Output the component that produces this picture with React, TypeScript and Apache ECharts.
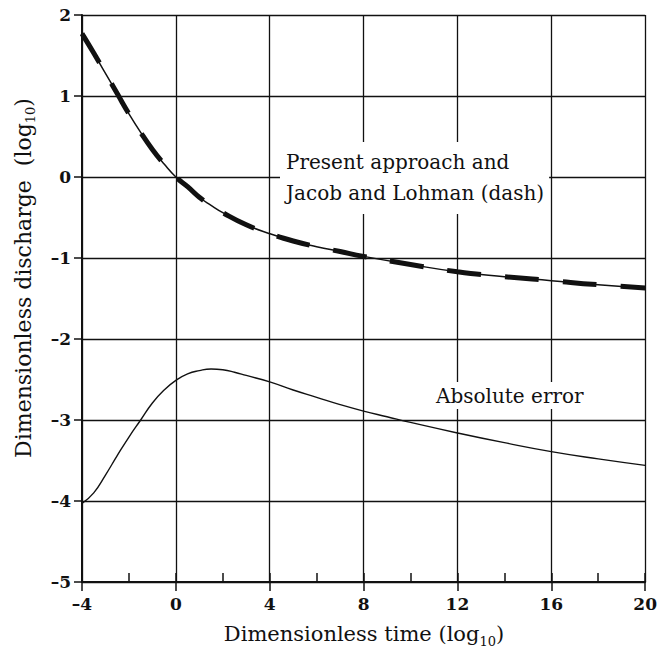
import React, { useEffect, useRef } from "react";
import * as echarts from "echarts";

const timeX: number[] = [-4, -3.5, -3, -2.5, -2, -1.5, -1, -0.5, 0, 0.5, 1, 1.5, 2, 3, 4, 5, 6, 7, 8, 10, 12, 14, 16, 18, 20];
const dischargeY: number[] = [1.77, 1.53, 1.28, 1.03, 0.78, 0.55, 0.34, 0.16, 0, -0.12, -0.25, -0.35, -0.44, -0.59, -0.7, -0.79, -0.86, -0.92, -0.98, -1.08, -1.17, -1.23, -1.28, -1.33, -1.37];

const errorX: number[] = [-4, -3.5, -3, -2.5, -2, -1.5, -1, -0.5, 0, 0.5, 1, 1.5, 2, 2.5, 3, 4, 5, 6, 7, 8, 9, 10, 12, 14, 16, 18, 20];
const errorY: number[] = [-4.03, -3.9, -3.68, -3.44, -3.21, -3.0, -2.79, -2.63, -2.51, -2.43, -2.39, -2.37, -2.38, -2.41, -2.45, -2.53, -2.63, -2.72, -2.81, -2.89, -2.96, -3.03, -3.16, -3.28, -3.39, -3.48, -3.56];

const xTicks = { min: -4, max: 20, interval: 4, minor: 2 };
const yTicks = { min: -5, max: 2, interval: 1 };

const xTitle = "Dimensionless time (log{sub|10})";
const yTitle = "Dimensionless discharge  (log{sub|10})";
const labelMain = "Present approach and\nJacob and Lohman (dash)";
const labelError = "Absolute error";

const FONT = "DejaVu Serif";
const INK = "#111";

const fmt = (v: number) => (v < 0 ? "\u2013" + Math.abs(v) : String(v));

export default function App() {
  const ref = useRef<HTMLDivElement>(null);
  useEffect(() => {
    if (!ref.current) return;
    const chart = echarts.init(ref.current, undefined, { renderer: "svg" });
    const mainData = timeX.map((x, i) => [x, dischargeY[i]]);
    const errData = errorX.map((x, i) => [x, errorY[i]]);
    const subRich = {
      sub: { fontSize: 13, fontFamily: FONT, color: INK, lineHeight: 13, verticalAlign: "bottom" },
    };
    chart.setOption({
      animation: false,
      backgroundColor: "#fff",
      grid: { left: 82, right: 10, top: 15, bottom: 72 },
      xAxis: [
        {
          type: "value",
          min: xTicks.min,
          max: xTicks.max,
          interval: xTicks.interval,
          position: "bottom",
          axisLine: { show: true, onZero: false, lineStyle: { color: INK, width: 2 } },
          axisTick: { show: true, inside: false, length: 9, lineStyle: { color: INK, width: 1.5 } },
          axisLabel: { formatter: fmt, fontFamily: FONT, fontWeight: "bold", fontSize: 17, color: INK, margin: 13 },
          splitLine: { show: true, lineStyle: { color: INK, width: 1.3 } },
        },
        {
          type: "value",
          min: xTicks.min,
          max: xTicks.max,
          interval: xTicks.minor,
          position: "bottom",
          offset: 0,
          axisLine: { show: false, onZero: false },
          axisTick: { show: true, inside: true, length: 9, lineStyle: { color: INK, width: 1.5 } },
          axisLabel: { show: false },
          splitLine: { show: false },
        },
      ],
      yAxis: {
        type: "value",
        min: yTicks.min,
        max: yTicks.max,
        interval: yTicks.interval,
        axisLine: { show: true, onZero: false, lineStyle: { color: INK, width: 2 } },
        axisTick: { show: true, inside: false, length: 8, lineStyle: { color: INK, width: 1.5 } },
        axisLabel: { formatter: fmt, fontFamily: FONT, fontWeight: "bold", fontSize: 17, color: INK, margin: 11 },
        splitLine: { show: true, lineStyle: { color: INK, width: 1.3 } },
      },
      series: [
        { type: "line", data: errData, smooth: 0.5, symbol: "none", lineStyle: { color: INK, width: 1.4 }, z: 3 },
        { type: "line", data: mainData, smooth: 0.5, symbol: "none", lineStyle: { color: INK, width: 1.5 }, z: 3 },
        {
          type: "line",
          data: mainData,
          smooth: 0.5,
          symbol: "none",
          lineStyle: { color: INK, width: 5, type: [34, 24], cap: "butt" },
          z: 4,
        },
      ],
      graphic: [
        {
          type: "text",
          x: 280,
          y: 142,
          z: 10,
          style: {
            text: labelMain,
            fontFamily: FONT,
            fontSize: 20,
            fill: INK,
            lineHeight: 31,
            backgroundColor: "#fff",
            padding: [4, 5, 6, 6],
          },
        },
        {
          type: "text",
          x: 432,
          y: 382,
          z: 10,
          style: {
            text: labelError,
            fontFamily: FONT,
            fontSize: 20,
            fill: INK,
            lineHeight: 27,
            backgroundColor: "#fff",
            padding: [0, 4, 0, 4],
          },
        },
        {
          type: "text",
          x: 364,
          y: 634,
          z: 10,
          style: {
            text: xTitle,
            fontFamily: FONT,
            fontSize: 21,
            fill: INK,
            align: "center",
            verticalAlign: "middle",
            lineHeight: 28,
            rich: subRich,
          },
        },
        {
          type: "text",
          x: 23,
          y: 278,
          rotation: Math.PI / 2,
          z: 10,
          style: {
            text: yTitle,
            fontFamily: FONT,
            fontSize: 22,
            fill: INK,
            align: "center",
            verticalAlign: "middle",
            lineHeight: 28,
            rich: subRich,
          },
        },
      ],
    });
    return () => chart.dispose();
  }, []);
  return <div ref={ref} style={{ position: "fixed", left: 0, top: 0, width: 660, height: 654 }} />;
}
